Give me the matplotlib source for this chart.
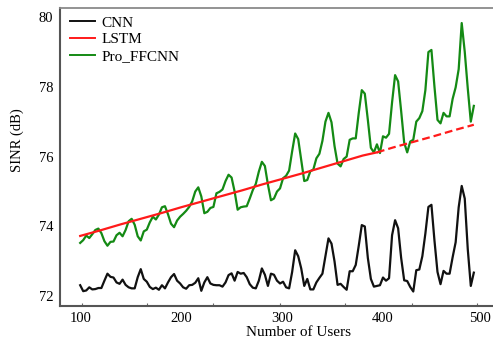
import matplotlib
matplotlib.use("Agg")
import matplotlib.pyplot as plt
import matplotlib.transforms as mtransforms
import numpy as np

plt.rcParams["font.family"] = "Liberation Serif"

# ------------------------------------------------------------------
# Data
# ------------------------------------------------------------------
USERS = np.arange(100, 491, 3)

CNN = [
    72.32, 72.15, 72.17, 72.26, 72.20, 72.21, 72.24, 72.24, 72.45, 72.65,
    72.56, 72.54, 72.40, 72.36, 72.48, 72.33, 72.26, 72.23, 72.23, 72.55,
    72.78, 72.50, 72.42, 72.27, 72.21, 72.25, 72.19, 72.32, 72.23, 72.40,
    72.55, 72.64, 72.45, 72.37, 72.26, 72.22, 72.32, 72.33, 72.39, 72.52,
    72.16, 72.40, 72.55, 72.37, 72.33, 72.32, 72.32, 72.28, 72.40, 72.61,
    72.66, 72.45, 72.70, 72.65, 72.67, 72.55, 72.35, 72.25, 72.23, 72.45,
    72.80, 72.62, 72.30, 72.65, 72.62, 72.45, 72.37, 72.42, 72.26, 72.23,
    72.70, 73.32, 73.15, 72.80, 72.30, 72.50, 72.20, 72.20, 72.40, 72.53,
    72.65, 73.15, 73.66, 73.51, 73.00, 72.33, 72.36, 72.27, 72.19, 72.72,
    72.72, 72.90, 73.45, 74.04, 74.00, 73.10, 72.50, 72.28, 72.30, 72.32,
    72.54, 72.45, 72.52, 73.75, 74.18, 73.95, 73.10, 72.46, 72.44, 72.27,
    72.14, 72.75, 72.77, 73.15, 73.80, 74.56, 74.62, 73.60, 72.70, 72.35,
    72.73, 72.65, 72.65, 73.12, 73.55, 74.55, 75.16, 74.80, 73.35, 72.30,
    72.68,
]

PRO_FFCNN = [
    73.53, 73.61, 73.74, 73.67, 73.78, 73.90, 73.94, 73.81, 73.58, 73.45,
    73.56, 73.57, 73.75, 73.82, 73.72, 73.90, 74.15, 74.22, 74.05, 73.72,
    73.60, 73.86, 73.91, 74.12, 74.28, 74.20, 74.34, 74.55, 74.58, 74.35,
    74.08, 73.98, 74.17, 74.28, 74.36, 74.45, 74.56, 74.72, 75.00, 75.12,
    74.86, 74.38, 74.42, 74.53, 74.56, 74.95, 74.99, 75.06, 75.30, 75.48,
    75.40, 75.00, 74.48, 74.55, 74.57, 74.58, 74.80, 75.04, 75.22, 75.57,
    75.85, 75.73, 75.20, 74.75, 74.80, 75.00, 75.09, 75.38, 75.45, 75.60,
    76.15, 76.66, 76.50, 75.90, 75.30, 75.33, 75.58, 75.63, 75.95, 76.08,
    76.45, 77.00, 77.25, 76.98, 76.30, 75.80, 75.72, 75.93, 76.00, 76.48,
    76.52, 76.52, 77.25, 77.90, 77.80, 77.05, 76.25, 76.12, 76.35, 76.10,
    76.58, 76.54, 76.65, 77.55, 78.33, 78.15, 77.30, 76.40, 76.12, 76.43,
    76.48, 77.00, 77.10, 77.30, 77.90, 78.99, 79.05, 78.00, 77.05, 76.95,
    77.25, 77.15, 77.15, 77.65, 77.98, 78.50, 79.82, 79.00, 77.95, 77.00,
    77.45,
]

# LSTM: fitted part (solid) and forecast part (dashed)
LSTM_X = [100, 120, 140, 160, 180, 200, 220, 240, 260, 280, 300, 320, 340, 360, 380, 394]
LSTM = [73.73, 73.89, 74.06, 74.22, 74.38, 74.55, 74.71, 74.87, 75.03, 75.20,
        75.36, 75.52, 75.69, 75.86, 76.03, 76.12]
LSTM_PRED_X = [394, 410, 430, 450, 470, 490]
LSTM_PRED = [76.12, 76.26, 76.42, 76.58, 76.75, 76.91]

X_TICKS = [100, 200, 300, 400, 500]
Y_TICKS = [72, 74, 76, 78, 80]
X_MARKS = [102, 166, 232, 298, 362, 429, 493]

BLACK = "#111111"
RED = "#ff1a1a"
GREEN = "#148a14"

W, H = 493, 343
fig = plt.figure(figsize=(W / 100, H / 100), dpi=100)
ax = fig.add_axes([60 / W, 1 - 305.5 / H, (W - 60) / W, (305.5 - 8) / H])

l_cnn, = ax.plot(USERS, CNN, color=BLACK, lw=1.6, label="CNN")
l_lstm, = ax.plot(LSTM_X, LSTM, color=RED, lw=1.6, label="LSTM", zorder=3)
ax.plot(LSTM_PRED_X, LSTM_PRED, color=RED, lw=1.6, dashes=(3.5, 1.8), zorder=3)
l_pro, = ax.plot(USERS, PRO_FFCNN, color=GREEN, lw=1.6, label="Pro_FFCNN", zorder=2)

ax.set_xlim(80, 509)
ax.set_ylim(71.74, 80.25)
ax.set_xticks(X_TICKS)
ax.set_yticks(Y_TICKS)
ax.set_xticks(X_MARKS, minor=True)
ax.tick_params(axis="both", which="major", length=0, pad=5, labelsize=10.5)
ax.tick_params(axis="x", which="minor", direction="in", length=2.5, width=0.8, color="#666666")

# last x label sits a little left in the original so it stays inside the frame
last = ax.get_xticklabels()[-1]
last.set_transform(last.get_transform()
                   + mtransforms.ScaledTranslation(-3.5 / 100, 0, fig.dpi_scale_trans))

for side in ["left", "bottom"]:
    ax.spines[side].set_color("#555555")
    ax.spines[side].set_linewidth(1.5)
ax.spines["top"].set_color("#8a8a8a")
ax.spines["top"].set_linewidth(1.3)
ax.spines["right"].set_visible(False)

fig.text(17 / W, 1 - 140 / H, "SINR (dB)", rotation=90, ha="center", va="center", fontsize=10.5)
fig.text(299 / W, 1 - 332 / H, "Number of Users", ha="center", va="center", fontsize=11)

leg = fig.legend(
    [l_cnn, l_lstm, l_pro], ["CNN", "LSTM", "Pro_FFCNN"],
    loc="upper left", bbox_to_anchor=(70 / W, 1 - 16 / H), frameon=False,
    fontsize=11, handlelength=1.65, handletextpad=0.4, labelspacing=0.2,
    borderpad=0, borderaxespad=0,
)
for line in leg.get_lines():
    line.set_linewidth(1.4)

fig.savefig("out.png", dpi=100)
